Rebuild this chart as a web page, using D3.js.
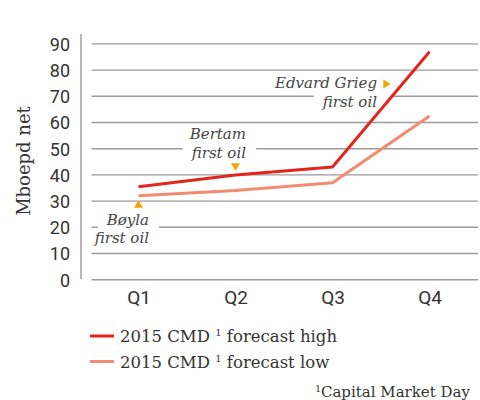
<!DOCTYPE html>
<html>
<head>
<meta charset="utf-8">
<script src="https://cdn.jsdelivr.net/npm/d3@7"></script>
<style>
  html, body { margin: 0; padding: 0; background: #fff; }
  svg { display: block; }
</style>
</head>
<body>
<svg id="chart" width="480" height="400"></svg>
<script>
// Production forecast by quarter (Mboepd net)
const quarters = ["Q1", "Q2", "Q3", "Q4"];
const forecastHigh = [35.5, 40, 43, 87];
const forecastLow = [32, 34, 37, 62.5];
const yTicks = [0, 10, 20, 30, 40, 50, 60, 70, 80, 90];
const seriesNames = ["2015 CMD", "2015 CMD"];
const seriesSuffix = [" forecast high", " forecast low"];

// Field start-up milestones: quarter position (fractional) and level
const milestoneNames = [["Bøyla", "first oil"], ["Bertam", "first oil"], ["Edvard Grieg", "first oil"]];
const milestoneQuarter = [0, 1, 2.56];
const milestoneLevel = [28.8, 43.1, 74.7];
const milestoneDir = ["up", "down", "right"];

const svg = d3.select("#chart");
const serif = "'DejaVu Serif', serif";
const sans = "Roboto, 'Open Sans', sans-serif";

const x = d3.scalePoint().domain(quarters).range([90, 478]).padding(0.5);
const y = d3.scaleLinear().domain([0, 90]).range([279.7, 43.9]);
const step = x.step();
const xq = q => x(quarters[0]) + q * step;

// horizontal gridlines
svg.append("g").selectAll("line").data(yTicks).join("line")
  .attr("x1", 91.5).attr("x2", 478)
  .attr("y1", d => y(d)).attr("y2", d => y(d))
  .attr("stroke", "#9a9a9a").attr("stroke-width", 1.4);

// left axis line + tick labels
svg.append("line").attr("x1", 81).attr("x2", 81).attr("y1", 34).attr("y2", 279)
  .attr("stroke", "#9a9a9a").attr("stroke-width", 1.4);
const yAxis = d3.axisLeft(y).tickValues(yTicks).tickSize(0).tickPadding(0);
const ya = svg.append("g").attr("transform", "translate(70,0)").call(yAxis);
ya.select(".domain").remove();
ya.selectAll("text").attr("font-family", sans).attr("font-size", 18).attr("fill", "#333").attr("dy", "0.35em");

// x labels
const xAxis = d3.axisBottom(x).tickSize(0).tickPadding(0);
const xa = svg.append("g").attr("transform", "translate(0,290)").call(xAxis);
xa.select(".domain").remove();
xa.selectAll("text").attr("font-family", sans).attr("font-size", 19).attr("fill", "#333").attr("dy", "0.75em");

// axis title
svg.append("text")
  .attr("transform", "translate(30,161) rotate(-90)")
  .attr("text-anchor", "middle")
  .attr("font-family", serif).attr("font-size", 18).attr("fill", "#333")
  .text("Mboepd net");

// milestone label backgrounds (knock out gridlines behind the text)
const labelG = svg.append("g");
const labelRight = [149, 246, 377];
const labelBase = [[225, 243], [139.3, 158.3], [88.3, 106.7]];
const padRight = [[10, 10], [10, 10], [10, 16]];
const labelTexts = [];
milestoneNames.forEach((lines, i) => {
  lines.forEach((t, j) => {
    const txt = svg.append("text")
      .attr("x", labelRight[i]).attr("y", labelBase[i][j])
      .attr("text-anchor", "end")
      .attr("font-family", serif).attr("font-style", "italic")
      .attr("font-size", 15).attr("fill", "#444")
      .text(t);
    const b = txt.node().getBBox();
    labelG.append("rect")
      .attr("x", b.x - 8).attr("y", b.y)
      .attr("width", b.width + 8 + padRight[i][j]).attr("height", b.height)
      .attr("fill", "#fff");
    labelTexts.push(txt);
  });
});

// forecast lines
const line = d3.line().x((d, i) => x(quarters[i])).y(d => y(d));
const seriesColors = ["#e3261c", "#f28c70"];
const linesG = svg.append("g");
[forecastLow, forecastHigh].forEach((s, k) => {
  linesG.append("path").datum(s)
    .attr("d", line)
    .attr("fill", "none")
    .attr("stroke", k === 0 ? seriesColors[1] : seriesColors[0])
    .attr("stroke-width", 3)
    .attr("stroke-linejoin", "round");
});
labelTexts.forEach(t => t.raise());

// milestone markers
const tri = {
  up: "M0,-4 L4.5,3.5 L-4.5,3.5 Z",
  down: "M0,4 L4.5,-3.5 L-4.5,-3.5 Z",
  right: "M4,0 L-3.5,4.5 L-3.5,-4.5 Z"
};
svg.append("g").selectAll("path").data(milestoneLevel).join("path")
  .attr("transform", (d, i) => `translate(${xq(milestoneQuarter[i])},${y(d)})`)
  .attr("d", (d, i) => tri[milestoneDir[i]])
  .attr("fill", "#f5a500");

// legend
const legY = [336, 361.5];
const lg = svg.append("g");
seriesNames.forEach((n, i) => {
  lg.append("line").attr("x1", 90).attr("x2", 114).attr("y1", legY[i]).attr("y2", legY[i])
    .attr("stroke", seriesColors[i]).attr("stroke-width", 3);
  const t = lg.append("text").attr("x", 120).attr("y", legY[i] + 6)
    .attr("font-family", serif).attr("font-size", 16.5).attr("fill", "#333");
  t.append("tspan").text(n + " ");
  t.append("tspan").attr("font-size", 10).attr("dy", -6).text("1");
  t.append("tspan").attr("dy", 6).text(seriesSuffix[i]);
});

// footnote
const fn = svg.append("text").attr("x", 470).attr("y", 397).attr("text-anchor", "end")
  .attr("font-family", serif).attr("font-size", 15).attr("fill", "#333");
fn.append("tspan").attr("font-size", 9).attr("dy", -5).text("1");
fn.append("tspan").attr("dy", 5).text("Capital Market Day");
</script>
</body>
</html>
